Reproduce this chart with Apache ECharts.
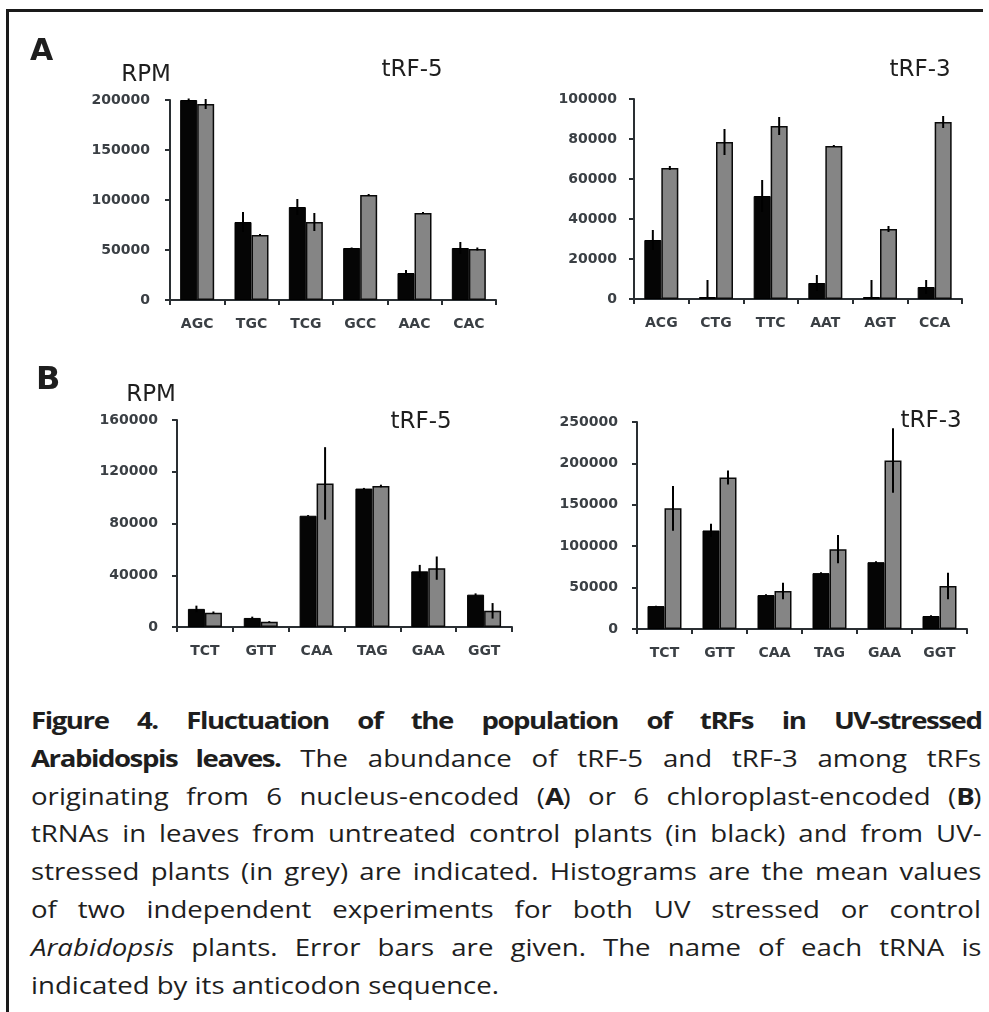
<!DOCTYPE html>
<html>
<head>
<meta charset="utf-8">
<script src="https://cdn.jsdelivr.net/npm/echarts@6/dist/echarts.min.js"></script>
<style>
  html, body { margin:0; padding:0; background:#fff; width:989px; height:1012px; overflow:hidden; }
  #frame { position:absolute; left:6px; top:9px; width:974px; height:1010px; border-top:3px solid #1a1a1a; border-left:3px solid #1a1a1a; }
  #chart { position:absolute; left:0; top:0; width:989px; height:690px; }
  #caption { position:absolute; left:31px; top:702px; width:792px; transform-origin:0 0; transform:scaleX(1.2);
             font-family:"Open Sans", "Noto Sans", sans-serif; font-size:23px; color:#1e1e1e; }
  #caption .ln { height:37.8px; line-height:37.8px; white-space:nowrap; }
  #caption .ln > span { display:inline-block; white-space:nowrap; }
  #caption b { letter-spacing:-1.2px; }
</style>
</head>
<body>
<div id="frame"></div>
<div id="chart"></div>
<div id="caption">
  <div class="ln"><span><b>Figure 4. Fluctuation of the population of tRFs in UV-stressed</b></span></div>
  <div class="ln"><span><b>Arabidospis leaves.</b> The abundance of tRF-5 and tRF-3 among tRFs</span></div>
  <div class="ln"><span>originating from 6 nucleus-encoded (<b>A</b>) or 6 chloroplast-encoded (<b>B</b>)</span></div>
  <div class="ln"><span>tRNAs in leaves from untreated control plants (in black) and from UV-</span></div>
  <div class="ln"><span>stressed plants (in grey) are indicated. Histograms are the mean values</span></div>
  <div class="ln"><span>of two independent experiments for both UV stressed or control</span></div>
  <div class="ln"><span><i>Arabidopsis</i> plants. Error bars are given. The name of each tRNA is</span></div>
  <div class="ln last"><span>indicated by its anticodon sequence.</span></div>
</div>
<script>
// ---- Data ----
// Panel A, tRF-5 (nucleus-encoded)
const catsA5 = ['AGC', 'TGC', 'TCG', 'GCC', 'AAC', 'CAC'];
const ctrlA5 = [200000, 78000, 93000, 52000, 27000, 52000];
const ctrlErrA5 = [1500, 10000, 8000, 500, 3000, 6000];
const uvA5 = [196000, 65000, 78000, 105000, 87000, 51000];
const uvErrA5 = [5000, 1000, 9000, 1000, 1000, 1500];

// Panel A, tRF-3 (nucleus-encoded)
const catsA3 = ['ACG', 'CTG', 'TTC', 'AAT', 'AGT', 'CCA'];
const ctrlA3 = [29500, 1000, 51500, 8000, 1000, 6000];
const ctrlErrA3 = [5000, 8500, 8000, 4000, 8500, 3500];
const uvA3 = [65500, 78500, 86500, 76500, 35000, 88500];
const uvErrA3 = [1000, 6500, 4500, 500, 1500, 3000];

// Panel B, tRF-5 (chloroplast-encoded)
const catsB5 = ['TCT', 'GTT', 'CAA', 'TAG', 'GAA', 'GGT'];
const ctrlB5 = [14000, 7000, 86000, 107000, 43000, 25000];
const ctrlErrB5 = [2500, 1000, 500, 500, 5000, 1000];
const uvB5 = [11000, 4000, 111000, 109000, 45500, 12500];
const uvErrB5 = [1000, 500, 28000, 1000, 9000, 6000];

// Panel B, tRF-3 (chloroplast-encoded)
const catsB3 = ['TCT', 'GTT', 'CAA', 'TAG', 'GAA', 'GGT'];
const ctrlB3 = [27700, 119000, 41000, 67500, 80700, 15700];
const ctrlErrB3 = [500, 8000, 1000, 1000, 1000, 1000];
const uvB3 = [145800, 183000, 45800, 96400, 203600, 51800];
const uvErrB3 = [27000, 8500, 10000, 17000, 39000, 16000];

// Axis scales
const yMax = [200000, 100000, 160000, 250000];
const yStep = [50000, 20000, 40000, 50000];

// ---- Styling / layout ----
const BW = 17;
const grids = [
  { left: 170, top: 100, width: 326, height: 200 },
  { left: 634, top: 99,  width: 328, height: 200 },
  { left: 177, top: 420, width: 335, height: 207 },
  { left: 637, top: 422, width: 330, height: 207 }
];
const labelMargins = [20, 17, 19, 19];
const panels = [
  [catsA5, ctrlA5, ctrlErrA5, uvA5, uvErrA5],
  [catsA3, ctrlA3, ctrlErrA3, uvA3, uvErrA3],
  [catsB5, ctrlB5, ctrlErrB5, uvB5, uvErrB5],
  [catsB3, ctrlB3, ctrlErrB3, uvB3, uvErrB3]
];
const axisColor = '#2a2f33';
const tickFont = { fontFamily: 'DejaVu Sans', fontSize: 14, fontWeight: 'bold', color: '#3a3f44' };

const xAxes = [], yAxes = [], series = [];
panels.forEach((p, gi) => {
  xAxes.push({
    type: 'category', gridIndex: gi, data: p[0],
    axisLine: { lineStyle: { color: axisColor, width: 2 } },
    axisTick: { show: true, length: 5, lineStyle: { color: axisColor, width: 2 } },
    axisLabel: Object.assign({ margin: 17, interval: 0 }, tickFont)
  });
  yAxes.push({
    type: 'value', gridIndex: gi, min: 0, max: yMax[gi], interval: yStep[gi],
    splitLine: { show: false },
    axisLine: { show: true, lineStyle: { color: axisColor, width: 2 } },
    axisTick: { show: true, length: 5, lineStyle: { color: axisColor, width: 2 } },
    axisLabel: Object.assign({ margin: labelMargins[gi], formatter: v => String(v) }, tickFont)
  });
  series.push({
    type: 'bar', xAxisIndex: gi, yAxisIndex: gi, data: p[1], barWidth: BW, barGap: '0%',
    itemStyle: { color: '#050505', borderColor: '#000', borderWidth: 1 }
  });
  series.push({
    type: 'bar', xAxisIndex: gi, yAxisIndex: gi, data: p[3], barWidth: BW, barGap: '0%',
    itemStyle: { color: '#858585', borderColor: '#0a0a0a', borderWidth: 1.5 }
  });
  [[p[1], p[2], -BW / 2], [p[3], p[4], BW / 2]].forEach(([vals, errs, off]) => {
    series.push({
      type: 'custom', xAxisIndex: gi, yAxisIndex: gi, z: 10,
      data: vals.map((v, i) => [i, v, errs[i]]),
      encode: { x: 0, y: 1 },
      renderItem: (params, api) => {
        const i = api.value(0), v = api.value(1), e = api.value(2);
        const top = api.coord([i, v + e]);
        const bot = api.coord([i, Math.max(0, v - e)]);
        const x = top[0] + off;
        return { type: 'line', shape: { x1: x, y1: top[1], x2: x, y2: bot[1] },
                 style: { stroke: '#000', lineWidth: 2 } };
      }
    });
  });
});

const txt = (x, y, s, size, weight, align) => ({
  type: 'text', x: x, y: y, z: 100,
  style: { text: s, fontFamily: 'DejaVu Sans', fontSize: size, fontWeight: weight || 'normal',
           fill: '#1e1e1e', align: align || 'center', verticalAlign: 'middle' }
});

const chart = echarts.init(document.getElementById('chart'), null, { renderer: 'canvas' });
chart.setOption({
  animation: false,
  backgroundColor: 'transparent',
  grid: grids,
  xAxis: xAxes,
  yAxis: yAxes,
  series: series,
  graphic: [
    txt(30, 52, 'A', 30, 'bold', 'left'),
    txt(146, 75, 'RPM', 23),
    txt(412, 70, 'tRF-5', 23),
    txt(920, 70, 'tRF-3', 23),
    txt(36, 381, 'B', 32, 'bold', 'left'),
    txt(151, 395, 'RPM', 23),
    txt(421, 422, 'tRF-5', 23),
    txt(931, 421, 'tRF-3', 23)
  ]
});

// Justify caption lines to the full width
function fitCaption() {
  const target = 792;
  document.querySelectorAll('#caption .ln').forEach(div => {
    if (div.classList.contains('last')) return;
    const span = div.firstElementChild;
    span.style.wordSpacing = '0px';
    const w = span.offsetWidth;
    const n = (span.textContent.match(/ /g) || []).length;
    if (n > 0) span.style.wordSpacing = ((target - w) / n) + 'px';
  });
}
fitCaption();
if (document.fonts && document.fonts.ready) document.fonts.ready.then(fitCaption);
</script>
</body>
</html>
